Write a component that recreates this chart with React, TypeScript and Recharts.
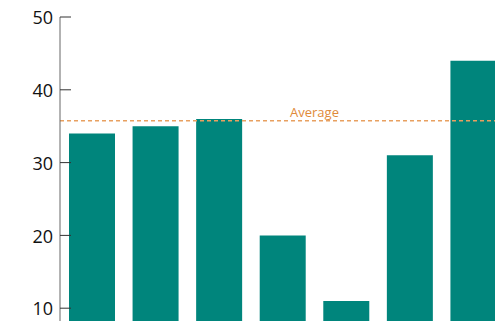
import React from 'react';
import { BarChart, Bar, XAxis, YAxis, ReferenceLine } from 'recharts';

const categories = ['A', 'B', 'C', 'D', 'E', 'F', 'G'];
const values = [34, 35, 36, 20, 11, 31, 44];
const yTicks = [10, 20, 30, 40, 50];
const averageValue = 35.75;
const averageLabel = 'Average';

const data = categories.map((c, i) => ({ name: c, value: values[i] }));

const FONT = '"Open Sans", sans-serif';

const YTick = (props: any) => {
  const { x, y, payload } = props;
  return (
    <g>
      <line x1={x} x2={x + 11} y1={y} y2={y} stroke="#333" strokeWidth={1} />
      <text x={x - 7} y={y} dy="0.4em" textAnchor="end" fill="#111" fontSize={18} fontFamily={FONT}>
        {payload.value}
      </text>
    </g>
  );
};

export default function App() {
  return (
    <div style={{ marginTop: -8, marginLeft: -8, width: 503, height: 321, overflow: 'hidden' }}>
      <BarChart
        width={505}
        height={381}
        data={data}
        margin={{ top: 17, right: 0, left: 0, bottom: 0 }}
      >
        <XAxis dataKey="name" hide />
        <YAxis
          width={60}
          domain={[0, 50]}
          ticks={yTicks}
          tickLine={false}
          tickSize={0}
          tickMargin={0}
          axisLine={{ stroke: '#666', strokeWidth: 1 }}
          tick={<YTick />}
          interval={0}
        />
        <Bar dataKey="value" fill="#00857C" barSize={46} isAnimationActive={false} />
        <ReferenceLine
          y={averageValue}
          stroke="#E8A060"
          strokeWidth={1.5}
          strokeDasharray="4 3"
          label={{ value: averageLabel, position: 'top', dx: 32, dy: 1, fill: '#E08A3A', fontSize: 13, fontFamily: FONT }}
        />
      </BarChart>
    </div>
  );
}
